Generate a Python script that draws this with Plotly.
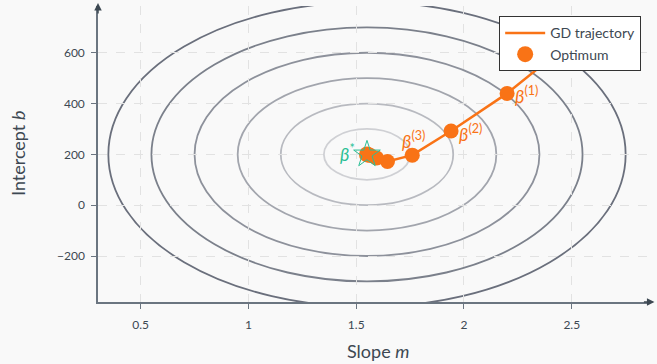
import plotly.graph_objects as go

# ---- data ----
traj_m = [2.56, 2.20, 1.94, 1.76, 1.645, 1.595, 1.565, 1.555]
traj_b = [686, 440, 292, 197, 172, 186, 196, 200]
traj_labels = ["", "(1)", "(2)", "(3)", "", "", "", ""]
opt_m = [1.55]
opt_b = [200]
contour_rm = [0.2, 0.4, 0.6, 0.8, 1.0, 1.2]
contour_rb = [100, 200, 300, 400, 500, 600]
contour_colors = ["#cfd0d4", "#b8bac0", "#a2a5ad", "#8d919b", "#7b808b", "#6a6f7c"]
x_ticks = [0.5, 1, 1.5, 2, 2.5]
x_ticktext = ["0.5", "1", "1.5", "2", "2.5"]
y_ticks = [-200, 0, 200, 400, 600]
y_ticktext = ["−200", "0", "200", "400", "600"]

ORANGE = "#f97316"
GREEN = "#2bbf95"
TXT = "#3d4852"
AXIS = "#6b7580"
FONT = "Lato, Open Sans, DejaVu Sans, sans-serif"

fig = go.Figure()

# contours as ellipses in data coordinates
shapes = []
for rm, rb, c in zip(contour_rm, contour_rb, contour_colors):
    shapes.append(dict(type="circle", xref="x", yref="y",
                       x0=opt_m[0] - rm, x1=opt_m[0] + rm,
                       y0=opt_b[0] - rb, y1=opt_b[0] + rb,
                       line=dict(color=c, width=1.8), layer="below"))

fig.add_trace(go.Scatter(x=traj_m, y=traj_b, mode="lines",
                         line=dict(color=ORANGE, width=2.5),
                         name="GD trajectory"))
fig.add_trace(go.Scatter(x=traj_m, y=traj_b, mode="markers",
                         marker=dict(color=ORANGE, size=15),
                         showlegend=False))
fig.add_trace(go.Scatter(x=opt_m, y=opt_b, mode="markers",
                         marker=dict(color=ORANGE, size=16),
                         name="Optimum"))
fig.add_trace(go.Scatter(x=opt_m, y=opt_b, mode="markers",
                         marker=dict(symbol="star-open", size=20, color=GREEN,
                                     line=dict(color=GREEN, width=1.0)),
                         showlegend=False))

annotations = []
for m, b, lab in zip(traj_m, traj_b, traj_labels):
    if not lab:
        continue
    txt = "<i>β</i><sup>" + lab + "</sup>"
    if lab == "(3)":
        annotations.append(dict(x=m, y=b, xref="x", yref="y", text=txt,
                                showarrow=False, xshift=1, yshift=15,
                                font=dict(color=ORANGE, size=18, family=FONT)))
    else:
        annotations.append(dict(x=m, y=b, xref="x", yref="y", text=txt,
                                showarrow=False, xanchor="left", xshift=6, yshift=-2,
                                font=dict(color=ORANGE, size=18, family=FONT)))
annotations.append(dict(x=opt_m[0], y=opt_b[0], xref="x", yref="y",
                        text="<i>β</i><sup>*</sup>", showarrow=False, xanchor="right",
                        xshift=-10, yshift=1,
                        font=dict(color=GREEN, size=18, family=FONT)))
# axis titles
annotations.append(dict(x=0.5, y=0, xref="paper", yref="paper", yanchor="middle",
                        yshift=-49, xshift=4, text="Slope <i>m</i>", showarrow=False,
                        font=dict(size=18, color=TXT, family=FONT)))
annotations.append(dict(x=0, y=0.5, xref="paper", yref="paper", xanchor="center",
                        xshift=-80, text="Intercept <i>b</i>", textangle=-90,
                        showarrow=False, font=dict(size=18, color=TXT, family=FONT)))
# axis arrowheads
annotations.append(dict(x=1.008, y=0, xref="paper", yref="paper", ax=-12, ay=0,
                        axref="pixel", ayref="pixel", text="", showarrow=True,
                        arrowhead=2, arrowsize=1, arrowwidth=1.5, arrowcolor="#3d4852"))
annotations.append(dict(x=0, y=1.01, xref="paper", yref="paper", ax=0, ay=12,
                        text="", showarrow=True,
                        arrowhead=2, arrowsize=1, arrowwidth=1.5, arrowcolor="#3d4852"))

fig.update_layout(
    width=657, height=364,
    margin=dict(l=98, r=7, t=6, b=62),
    paper_bgcolor="#f9f9f9", plot_bgcolor="#f9f9f9",
    font=dict(family=FONT, color=TXT, size=12),
    shapes=shapes, annotations=annotations,
    showlegend=True,
    legend=dict(x=0.984, y=0.965, xanchor="right", yanchor="top",
                bgcolor="#ffffff", bordercolor="#333333", borderwidth=1,
                font=dict(size=14, color=TXT, family=FONT),
                itemwidth=40, tracegroupgap=4),
    xaxis=dict(range=[0.302, 2.863], tickvals=x_ticks, ticktext=x_ticktext,
               showgrid=True, gridcolor="#e2e2e2", griddash="dash", gridwidth=1,
               zeroline=False, showline=True, linecolor=AXIS, linewidth=1.5,
               ticks="outside", ticklen=5, tickcolor=AXIS,
               ticklabelstandoff=6, automargin=False,
               tickfont=dict(size=12, color=TXT)),
    yaxis=dict(range=[-381, 784], tickvals=y_ticks, ticktext=y_ticktext,
               showgrid=True, gridcolor="#e2e2e2", griddash="dash", gridwidth=1,
               zeroline=False, showline=True, linecolor=AXIS, linewidth=1.5,
               ticks="outside", ticklen=5, tickcolor=AXIS,
               ticklabelstandoff=4, automargin=False,
               tickfont=dict(size=12, color=TXT)),
)

fig.write_html("out.html", config={"displayModeBar": False},
               post_script="document.body.style.margin='0px';document.body.style.overflow='hidden';")
